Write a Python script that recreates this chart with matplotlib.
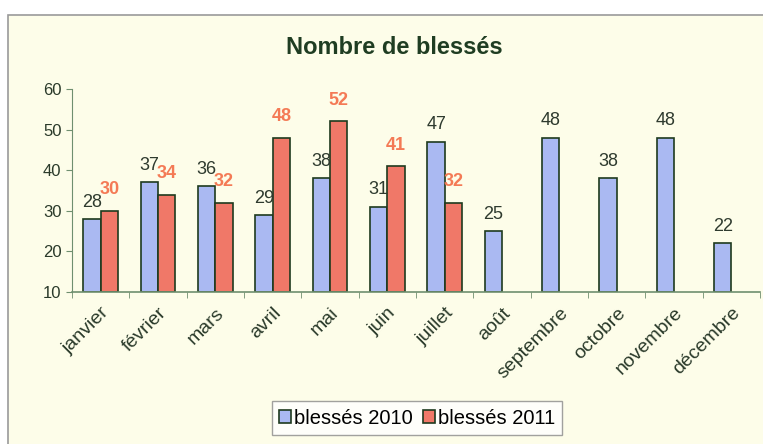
import matplotlib.pyplot as plt
from matplotlib.patches import Rectangle
import numpy as np

mois = ['janvier', 'février', 'mars', 'avril', 'mai', 'juin', 'juillet',
        'août', 'septembre', 'octobre', 'novembre', 'décembre']
blesses_2010 = [28, 37, 36, 29, 38, 31, 47, 25, 48, 38, 48, 22]
blesses_2011 = [30, 34, 32, 48, 52, 41, 32]

plt.rcParams['font.family'] = ['Liberation Sans', 'DejaVu Sans']

FOND = '#fdfde9'
BLEU = '#aab9f2'
ROUGE = '#f07868'
VERT = '#6f8f6f'

fig = plt.figure(figsize=(7.63, 4.44), dpi=100, facecolor='white')
# cadre du graphique
fig.patches.append(Rectangle((8 / 763, -0.05), 1.0, 1 - 15 / 444 + 0.05,
                             transform=fig.transFigure, facecolor=FOND,
                             edgecolor='#9a9a9a', linewidth=1.2, zorder=-10))

ax = fig.add_axes([72 / 763, 1 - 292 / 444, (760 - 72) / 763, (292 - 89) / 444])
ax.set_facecolor(FOND)

x = np.arange(len(mois))
w = 0.3
b1 = ax.bar(x[:len(blesses_2010)] - w / 2, np.array(blesses_2010) - 10, w, bottom=10,
            color=BLEU, edgecolor='#1e3a1e', linewidth=1.2, label='blessés 2010')
b2 = ax.bar(x[:len(blesses_2011)] + w / 2, np.array(blesses_2011) - 10, w, bottom=10,
            color=ROUGE, edgecolor='#1e3a1e', linewidth=1.2, label='blessés 2011')

for xi, v in zip(x, blesses_2010):
    ax.annotate(str(v), (xi - w / 2, v), xytext=(0, 6), textcoords='offset points',
                ha='center', va='bottom', fontsize=13, color='#2e3a2e')
for xi, v in zip(x, blesses_2011):
    ax.annotate(str(v), (xi + w / 2, v), xytext=(0, 9), textcoords='offset points',
                ha='center', va='bottom', fontsize=13, color='#f47a55', fontweight='bold')

ax.set_xlim(-0.5, len(mois) - 0.5)
ax.set_ylim(10, 60)
ax.set_yticks(range(10, 61, 10))
ax.set_xticks(x)
ax.set_xticklabels(mois, rotation=45, ha='right', rotation_mode='anchor',
                   fontsize=14, color='#2a3a2a')
ax.set_xticks(np.arange(-0.5, len(mois), 1), minor=True)
ax.tick_params(axis='x', which='major', length=0, pad=9)
ax.tick_params(axis='x', which='minor', length=4, color=VERT)
ax.tick_params(axis='y', length=4, color=VERT, labelsize=12, labelcolor='#2a3a2a')
for s in ['top', 'right']:
    ax.spines[s].set_visible(False)
ax.spines['left'].set_color(VERT)
ax.spines['bottom'].set_color(VERT)
ax.spines['bottom'].set_linewidth(1.2)

fig.text(394 / 763, 1 - 47 / 444, 'Nombre de blessés', ha='center', va='center',
         fontsize=17, fontweight='bold', color='#1f3d22')

leg = fig.legend(handles=[b1, b2], loc='center', bbox_to_anchor=(417 / 763, 1 - 418 / 444),
                 ncol=2, fontsize=14.5, frameon=True, fancybox=False, handlelength=0.6,
                 handleheight=0.6, handletextpad=0.15, columnspacing=0.5,
                 borderpad=0.35, facecolor='white')
leg.get_frame().set_edgecolor('#8a8a8a')

fig.savefig('out.png', dpi=100, facecolor=fig.get_facecolor())
